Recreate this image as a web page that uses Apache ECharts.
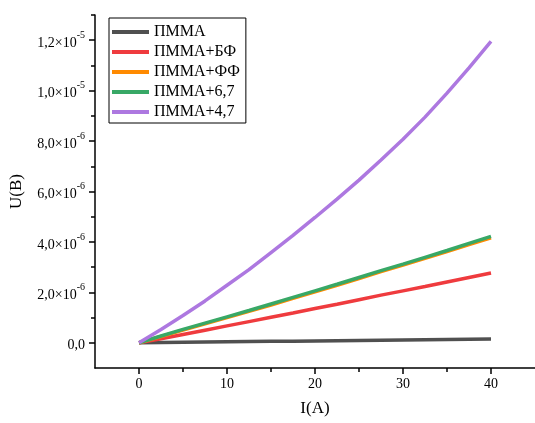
<!DOCTYPE html>
<html>
<head>
<meta charset="utf-8">
<script src="https://cdn.jsdelivr.net/npm/echarts@6/dist/echarts.min.js"></script>
<style>
	html, body { margin: 0; padding: 0; background: #fff; }
	#chart { width: 535px; height: 423px; }
</style>
</head>
<body>
<div id="chart"></div>
<script>
// ток, A
const current = [0, 2.5, 5, 7.5, 10, 12.5, 15, 17.5, 20, 22.5, 25, 27.5, 30, 32.5, 35, 37.5, 40];
// напряжение, ×10^-6 B
const pmma = [0, 0.01, 0.02, 0.03, 0.04, 0.05, 0.06, 0.06, 0.07, 0.08, 0.09, 0.10, 0.11, 0.12, 0.13, 0.14, 0.15];
const pmmaBF = [0, 0.16, 0.33, 0.50, 0.67, 0.84, 1.01, 1.18, 1.36, 1.53, 1.71, 1.89, 2.06, 2.23, 2.41, 2.59, 2.77];
const pmmaFF = [0, 0.25, 0.50, 0.75, 1.00, 1.25, 1.50, 1.76, 2.02, 2.28, 2.55, 2.82, 3.08, 3.35, 3.62, 3.89, 4.16];
const pmma67 = [0, 0.27, 0.53, 0.78, 1.03, 1.28, 1.54, 1.80, 2.06, 2.32, 2.59, 2.86, 3.12, 3.39, 3.66, 3.94, 4.22];
const pmma47 = [0, 0.53, 1.08, 1.66, 2.28, 2.90, 3.58, 4.26, 4.97, 5.70, 6.45, 7.25, 8.07, 8.95, 9.90, 10.90, 11.95];

const seriesNames = ['ПММА', 'ПММА+БФ', 'ПММА+ФФ', 'ПММА+6,7', 'ПММА+4,7'];
const seriesData = [pmma, pmmaBF, pmmaFF, pmma67, pmma47];
const seriesColors = ['#505050', '#ef3b3e', '#ff8a00', '#38a866', '#ad78e0'];

// подписи осей
const xTicks = [0, 10, 20, 30, 40];
const xMinorTicks = [5, 15, 25, 35];
const yTicks = [0, 2, 4, 6, 8, 10, 12];
const yMinorTicks = [1, 3, 5, 7, 9, 11, 13];
const yTickMant = ['0,0', '2,0', '4,0', '6,0', '8,0', '1,0', '1,2'];
const yTickExp = ['', '-6', '-6', '-6', '-6', '-5', '-5'];

const font = 'Liberation Serif';

const chart = echarts.init(document.getElementById('chart'), null, { renderer: 'canvas' });

const xBase = {
	type: 'value',
	min: -5,
	max: 45,
	splitLine: { show: false }
};
const yBase = {
	type: 'value',
	min: -1,
	max: 13,
	splitLine: { show: false }
};

chart.setOption({
	animation: false,
	backgroundColor: '#fff',
	grid: { left: 94, right: -2, top: 15, bottom: 55 },
	legend: {
		left: 109,
		top: 18,
		orient: 'vertical',
		icon: 'rect',
		itemWidth: 37,
		itemHeight: 4,
		itemGap: 4,
		itemTextGap: 4,
		padding: [6, 6, 3, 3],
		borderColor: '#000',
		borderWidth: 1,
		textStyle: { fontFamily: font, fontSize: 16, lineHeight: 16, color: '#000' },
		data: seriesNames
	},
	xAxis: [
		Object.assign({}, xBase, {
			name: 'I(A)',
			nameLocation: 'middle',
			nameGap: 32,
			nameTextStyle: { fontFamily: font, fontSize: 17, color: '#000' },
			axisLine: { onZero: false, lineStyle: { color: '#000', width: 1.5 } },
			axisTick: { customValues: xTicks, length: 6, lineStyle: { color: '#000', width: 1.5 } },
			axisLabel: { customValues: xTicks, margin: 9, fontFamily: font, fontSize: 14, color: '#000' }
		}),
		Object.assign({}, xBase, {
			position: 'bottom',
			axisLine: { show: false, onZero: false },
			axisTick: { customValues: xMinorTicks, length: 4, lineStyle: { color: '#000', width: 1.5 } },
			axisLabel: { show: false }
		})
	],
	yAxis: [
		Object.assign({}, yBase, {
			name: 'U(B)',
			nameLocation: 'middle',
			nameGap: 70,
			nameTextStyle: { fontFamily: font, fontSize: 17, color: '#000' },
			axisLine: { onZero: false, lineStyle: { color: '#000', width: 1.5 } },
			axisTick: { customValues: yTicks, length: 6, lineStyle: { color: '#000', width: 1.5 } },
			axisLabel: {
				customValues: yTicks,
				margin: 10,
				formatter: function(value) {
					const i = yTicks.indexOf(value);
					if (i < 0) return '';
					if (!yTickExp[i]) return '{b|' + yTickMant[i] + '}';
					return '{b|' + yTickMant[i] + '×10}{s|' + yTickExp[i] + '}';
				},
				rich: {
					b: { fontFamily: font, fontSize: 14, color: '#000', lineHeight: 20, verticalAlign: 'bottom' },
					s: { fontFamily: font, fontSize: 10, color: '#000', lineHeight: 10, verticalAlign: 'top' }
				}
			}
		}),
		Object.assign({}, yBase, {
			position: 'left',
			axisLine: { show: false, onZero: false },
			axisTick: { customValues: yMinorTicks, length: 4, lineStyle: { color: '#000', width: 1.5 } },
			axisLabel: { show: false }
		})
	],
	series: seriesNames.map(function(name, k) {
		return {
			name: name,
			type: 'line',
			xAxisIndex: 0,
			yAxisIndex: 0,
			showSymbol: false,
			symbol: 'none',
			color: seriesColors[k],
			lineStyle: { width: 3.5, color: seriesColors[k] },
			data: current.map(function(x, i) { return [x, seriesData[k][i]]; })
		};
	})
});
</script>
</body>
</html>
